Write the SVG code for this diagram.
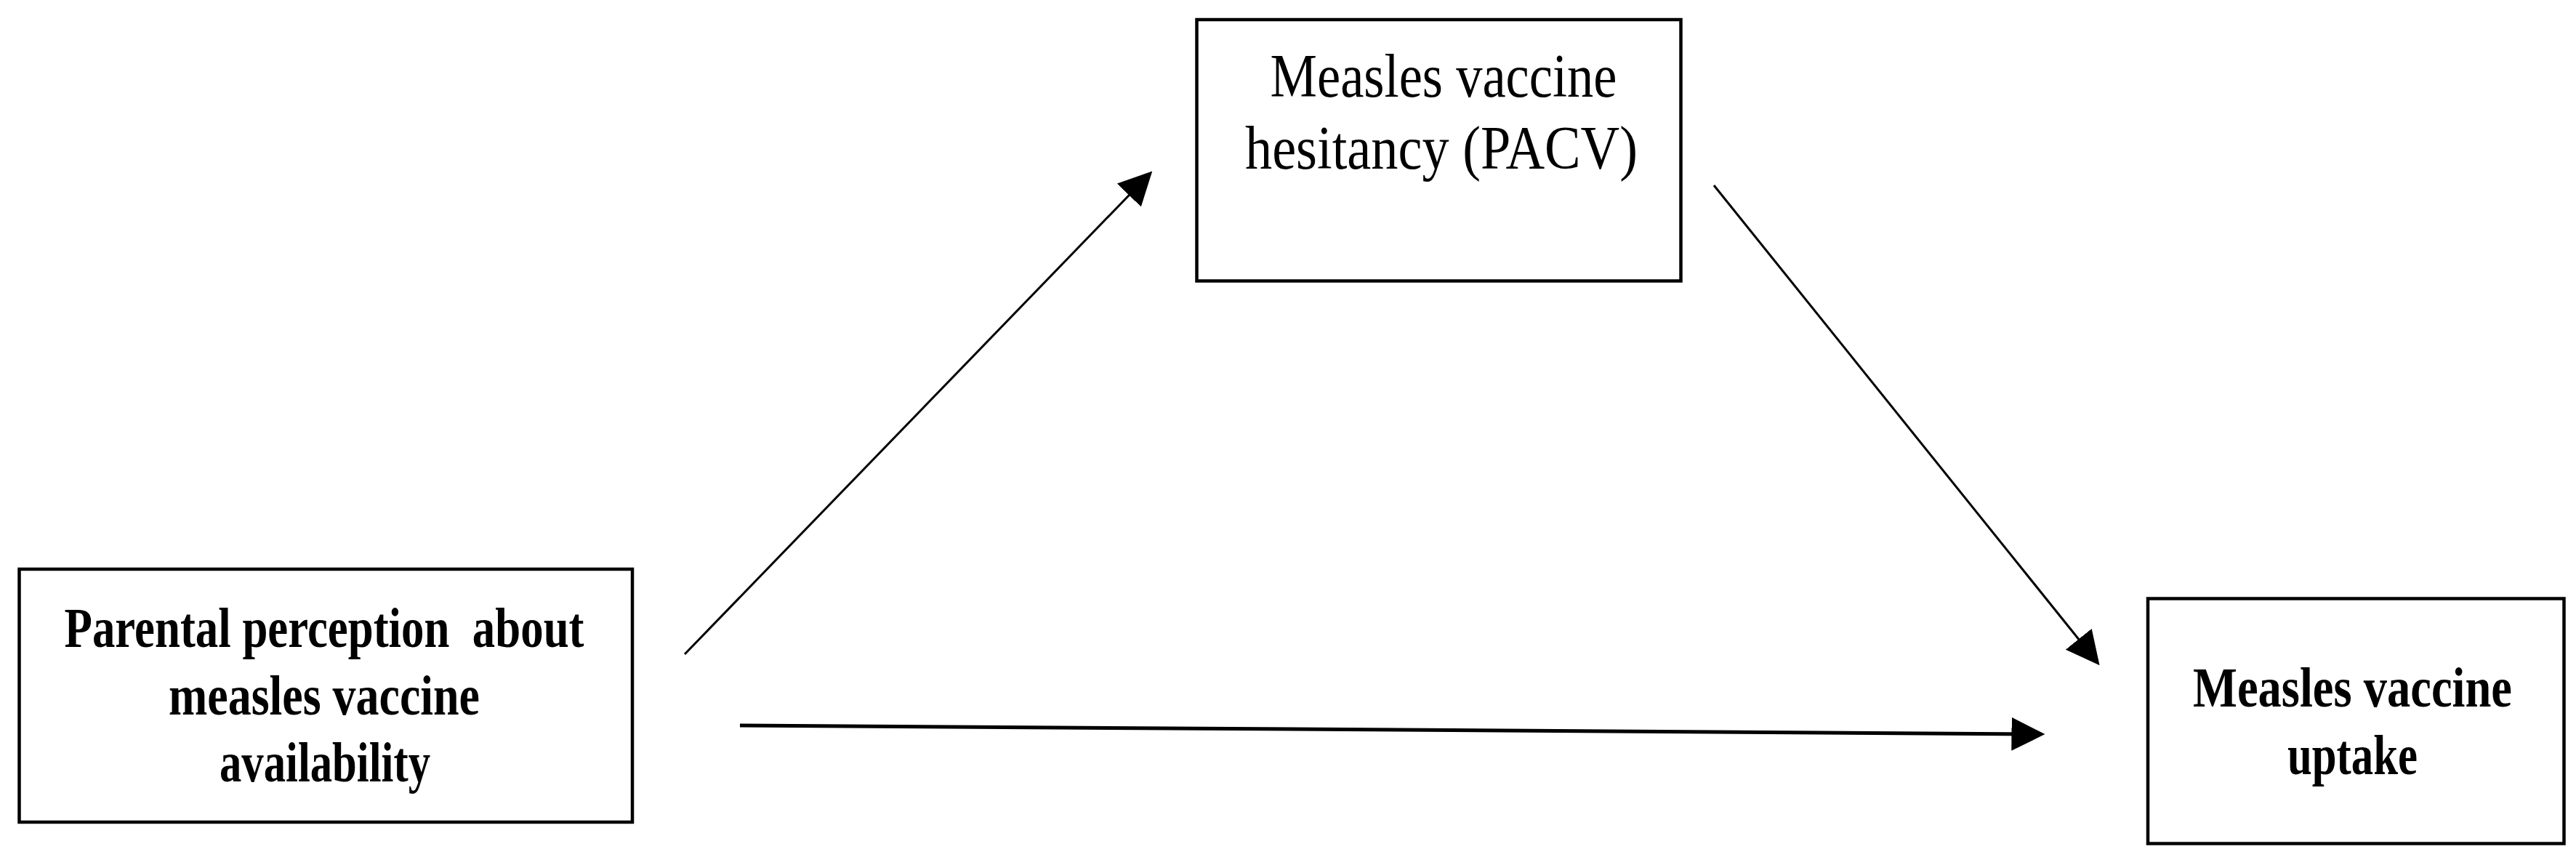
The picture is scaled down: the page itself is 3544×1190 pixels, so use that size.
<svg xmlns="http://www.w3.org/2000/svg" width="3544" height="1190" viewBox="0 0 3544 1190">
  <style>
    .box { fill: #ffffff; stroke: #000000; stroke-width: 4.5; }
    .lbl { font-family: "Liberation Serif", "Times New Roman", serif; fill: #000000; text-anchor: middle; }
    .bold { font-weight: bold; font-size: 78px; }
    .reg { font-weight: normal; font-size: 85px; }
    .conn { stroke: #000000; fill: none; }
  </style>
  <defs>
    <marker id="arrowhead" markerUnits="userSpaceOnUse" markerWidth="46" markerHeight="46" viewBox="0 0 44 44" refX="34" refY="22" orient="auto">
      <path d="M0,0 L44,22 L0,44 Z" fill="#000000"/>
    </marker>
  </defs>
  <rect width="3544" height="1190" fill="#ffffff"/>

  <g id="connectors">
    <line class="conn" x1="942" y1="900" x2="1578" y2="243" stroke-width="3" marker-end="url(#arrowhead)"/>
    <line class="conn" x1="2358" y1="255" x2="2882" y2="907" stroke-width="3" marker-end="url(#arrowhead)"/>
    <line class="conn" x1="1018" y1="998" x2="2803" y2="1010" stroke-width="5" marker-end="url(#arrowhead)"/>
  </g>

  <g id="node-perception">
    <rect class="box" x="26.5" y="783" width="843.5" height="348"/>
    <text class="lbl bold" x="446" y="890" textLength="715" lengthAdjust="spacingAndGlyphs" xml:space="preserve">Parental perception  about</text>
    <text class="lbl bold" x="446" y="983" textLength="428" lengthAdjust="spacingAndGlyphs">measles vaccine</text>
    <text class="lbl bold" x="447" y="1075" textLength="290" lengthAdjust="spacingAndGlyphs">availability</text>
  </g>

  <g id="node-hesitancy">
    <rect class="box" x="1646.5" y="27" width="666" height="359.5"/>
    <text class="lbl reg" x="1986" y="133" textLength="477" lengthAdjust="spacingAndGlyphs">Measles vaccine</text>
    <text class="lbl reg" x="1983" y="232" textLength="540" lengthAdjust="spacingAndGlyphs">hesitancy (PACV)</text>
  </g>

  <g id="node-uptake">
    <rect class="box" x="2955" y="823.5" width="572.5" height="337"/>
    <text class="lbl bold" x="3236.5" y="972" textLength="439" lengthAdjust="spacingAndGlyphs">Measles vaccine</text>
    <text class="lbl bold" x="3236.5" y="1065" textLength="179" lengthAdjust="spacingAndGlyphs">uptake</text>
  </g>
</svg>
